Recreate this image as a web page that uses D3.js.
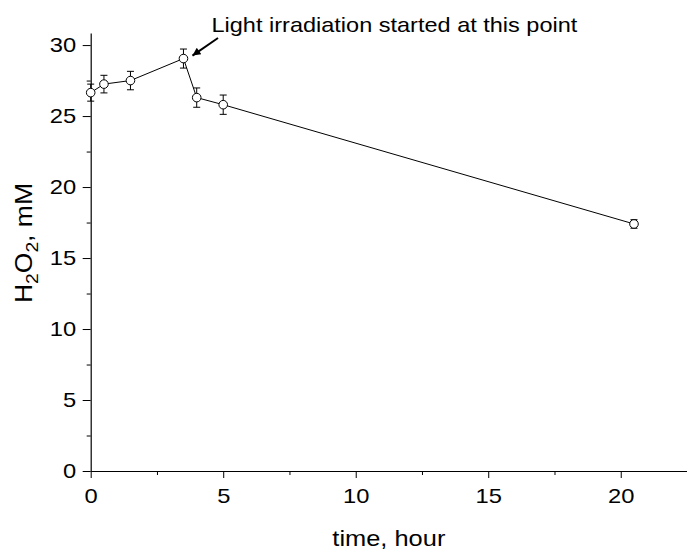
<!DOCTYPE html>
<html>
<head>
<meta charset="utf-8">
<script src="https://cdn.jsdelivr.net/npm/d3@7"></script>
<style>
  body { margin: 0; background: #fff; }
  svg { display: block; font-family: "Liberation Sans", Arial, sans-serif; }
</style>
</head>
<body>
<div id="chart"></div>
<script>
// data
let times = [0, 0.5, 1.5, 3.5, 4, 5, 20.5];
let h2o2 = [26.65, 27.25, 27.5, 29.05, 26.3, 25.8, 17.4];
let errs = [0.6, 0.62, 0.65, 0.67, 0.68, 0.68, 0.3];
let xMajor = [0, 5, 10, 15, 20];
let xMinor = [2.5, 7.5, 12.5, 17.5];
let yMajor = [0, 5, 10, 15, 20, 25, 30];
let yMinor = [2.5, 7.5, 12.5, 17.5, 22.5, 27.5];

let width = 687, height = 550;
let plotL = 90.7, plotR = 687, plotT = 33, plotB = 471;
// the original lettering is a bit wider than Arial
let stretch = 1.13;

let x = d3.scaleLinear().domain([0, 22.5]).range([plotL, plotR]);
let y = d3.scaleLinear().domain([0, 30.85]).range([plotB, plotT]);

let svg = d3.select("#chart").append("svg")
  .attr("width", width)
  .attr("height", height);

// axes
function styleAxis(g) {
  g.selectAll("path.domain").attr("stroke", "#000").attr("stroke-width", 1.2);
  g.selectAll(".tick line").attr("stroke", "#000");
  g.selectAll(".tick text").attr("fill", "#000").style("font-size", "21px");
}

svg.append("g")
  .attr("transform", "translate(0," + plotB + ")")
  .call(d3.axisBottom(x).tickValues(xMinor).tickSize(4).tickFormat("").tickSizeOuter(0))
  .call(g => g.select("path.domain").remove())
  .call(styleAxis);
svg.append("g")
  .attr("transform", "translate(0," + plotB + ")")
  .call(d3.axisBottom(x).tickValues(xMajor).tickSize(7).tickPadding(10).tickSizeOuter(0))
  .call(styleAxis)
  .call(g => g.selectAll(".tick text").attr("transform", "scale(" + stretch + ",1)"));

svg.append("g")
  .attr("transform", "translate(" + plotL + ",0)")
  .call(d3.axisLeft(y).tickValues(yMinor).tickSize(4).tickFormat("").tickSizeOuter(0))
  .call(g => g.select("path.domain").remove())
  .call(styleAxis);
svg.append("g")
  .attr("transform", "translate(" + plotL + ",0)")
  .call(d3.axisLeft(y).tickValues(yMajor).tickSize(8).tickPadding(6).tickSizeOuter(0))
  .call(styleAxis)
  .call(g => g.selectAll(".tick text")
    .attr("x", -14.5 / stretch)
    .attr("transform", "scale(" + stretch + ",1)"));

// axis titles
svg.append("text")
  .attr("transform", "translate(" + (plotL + plotR) / 2 + ",546) scale(" + stretch + ",1)")
  .attr("text-anchor", "middle")
  .style("font-size", "22.5px")
  .text("time, hour");

let yl = svg.append("text")
  .attr("transform", "translate(32,243) rotate(-90) scale(" + stretch + ",1)")
  .attr("text-anchor", "middle")
  .style("font-size", "23.5px");
yl.append("tspan").text("H");
yl.append("tspan").attr("dy", 6).style("font-size", "17px").text("2");
yl.append("tspan").attr("dy", -6).text("O");
yl.append("tspan").attr("dy", 6).style("font-size", "17px").text("2");
yl.append("tspan").attr("dy", -6).text(", mM");

// connecting line
let pts = times.map((t, i) => ({t: t, v: h2o2[i], e: errs[i]}));
svg.append("path")
  .datum(pts)
  .attr("fill", "none")
  .attr("stroke", "#000")
  .attr("stroke-width", 1)
  .attr("d", d3.line().x(d => x(d.t)).y(d => y(d.v)));

// error bars
let eb = svg.append("g").attr("stroke", "#000").attr("stroke-width", 1);
eb.selectAll("line.v").data(pts).enter().append("line")
  .attr("x1", d => x(d.t)).attr("x2", d => x(d.t))
  .attr("y1", d => y(d.v - d.e)).attr("y2", d => y(d.v + d.e));
eb.selectAll("line.top").data(pts).enter().append("line")
  .attr("x1", d => x(d.t) - 3.5).attr("x2", d => x(d.t) + 3.5)
  .attr("y1", d => y(d.v + d.e)).attr("y2", d => y(d.v + d.e));
eb.selectAll("line.bot").data(pts).enter().append("line")
  .attr("x1", d => x(d.t) - 3.5).attr("x2", d => x(d.t) + 3.5)
  .attr("y1", d => y(d.v - d.e)).attr("y2", d => y(d.v - d.e));

// markers
svg.append("g").selectAll("circle").data(pts).enter().append("circle")
  .attr("cx", d => x(d.t))
  .attr("cy", d => y(d.v))
  .attr("r", 4.3)
  .attr("fill", "#fff")
  .attr("stroke", "#000")
  .attr("stroke-width", 1);

// annotation
svg.append("defs").append("marker")
  .attr("id", "arrow")
  .attr("viewBox", "0 0 10 10")
  .attr("refX", 10).attr("refY", 5)
  .attr("markerWidth", 11).attr("markerHeight", 8)
  .attr("markerUnits", "userSpaceOnUse")
  .attr("orient", "auto")
  .append("path")
  .attr("d", "M0,0 L10,5 L0,10 Z")
  .attr("fill", "#000");

let hx = x(3.5) + 9, hy = y(29.05) - 3;
svg.append("line")
  .attr("x1", 218).attr("y1", 38)
  .attr("x2", hx).attr("y2", hy)
  .attr("stroke", "#000")
  .attr("stroke-width", 2)
  .attr("marker-end", "url(#arrow)");

svg.append("text")
  .attr("transform", "translate(211.5,31.5) scale(1.12,1)")
  .style("font-size", "21px")
  .text("Light irradiation started at this point");
</script>
</body>
</html>
